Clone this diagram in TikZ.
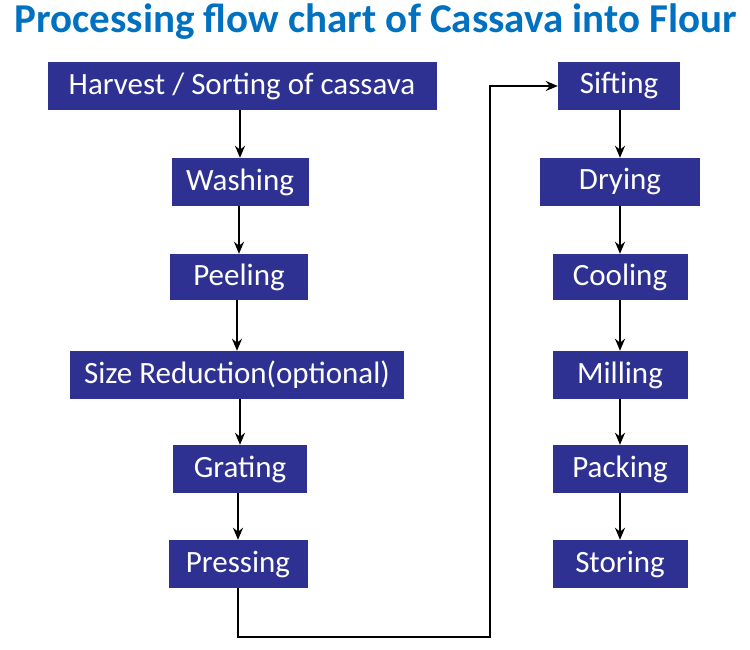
\documentclass[tikz,border=0pt]{standalone}
\usepackage{fontspec}
\setmainfont{Carlito}
\usetikzlibrary{arrows.meta}
\definecolor{boxblue}{RGB}{46,49,146}
\definecolor{titleblue}{RGB}{0,112,192}
\begin{document}
\begin{tikzpicture}[x=1pt,y=-1pt,
  stepbox/.style={fill=boxblue,text=white,inner sep=0pt,font=\fontsize{31}{34}\selectfont},
  arr/.style={-{Stealth[length=12pt,width=10pt]},line width=2.4pt}]
\useasboundingbox (0,0) rectangle (750,650);
\node[text=titleblue,font=\fontsize{41}{44}\selectfont\bfseries] (title) at (376,22) {Processing flow chart of Cassava into Flour};
\newcommand\bx[6]{\node[stepbox,minimum width=#4,minimum height=#5] (#1) at (#2,#3) {#6};}
\bx{a}{242}{86}{389}{48}{Harvest / Sorting of cassava}
\bx{b}{240}{182}{137}{48}{Washing}
\bx{c}{239}{277}{138}{46}{Peeling}
\bx{d}{237}{375}{334}{48}{Size Reduction(optional)}
\bx{e}{240}{469}{134}{48}{Grating}
\bx{f}{238}{564}{139}{48}{Pressing}
\bx{g}{619}{86}{122}{48}{Sifting}
\bx{h}{620}{182}{160}{48}{Drying}
\bx{i}{620}{277}{135}{46}{Cooling}
\bx{j}{620}{375}{135}{48}{Milling}
\bx{k}{620}{469}{135}{48}{Packing}
\bx{l}{620}{564}{135}{48}{Storing}
\foreach \p/\q in {a/b,b/c,c/d,d/e,e/f,g/h,h/i,i/j,j/k,k/l}
  \draw[arr] (\q.north |- \p.south) -- (\q.north);
\draw[arr] (f.south) -- ++(0,49) -| (490,86) -- (g.west);
\end{tikzpicture}
\end{document}
